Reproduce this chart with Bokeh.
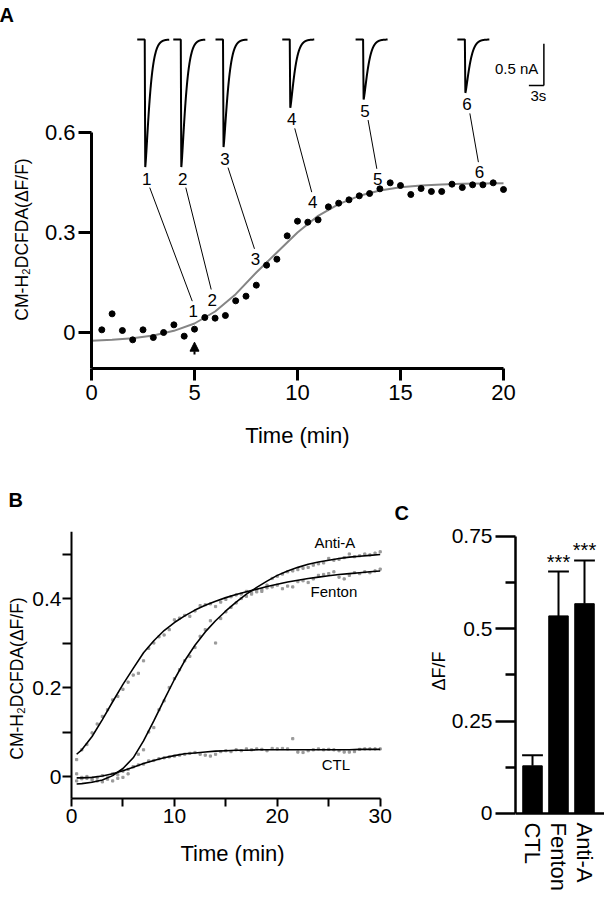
import numpy as np
from bokeh.plotting import figure
from bokeh.models import (Range1d, FixedTicker, Title, Arrow, NormalHead,
                          CustomJSTickFormatter)
from bokeh.layouts import column, row
from bokeh.embed import file_html
from bokeh.resources import INLINE
from bokeh.core.properties import value

FONT = "Liberation Sans"

# ---------------- Panel A data ----------------
a_time = np.arange(0.5, 20.01, 0.5)
a_dff = [0.008, 0.056, 0.006, -0.022, 0.008, -0.015, 0.000, 0.023, -0.011, 0.010,
         0.045, 0.043, 0.051, 0.095, 0.109, 0.142, 0.202, 0.220, 0.290, 0.334,
         0.331, 0.338, 0.377, 0.388, 0.398, 0.410, 0.417, 0.431, 0.449, 0.441,
         0.414, 0.432, 0.423, 0.423, 0.445, 0.435, 0.443, 0.443, 0.449, 0.429]
a_fit_time = list(range(0, 21))
a_fit = [-0.025, -0.022, -0.017, -0.009, 0.005, 0.027, 0.063, 0.115, 0.180, 0.240,
         0.300, 0.350, 0.385, 0.410, 0.426, 0.436, 0.441, 0.444, 0.446, 0.447, 0.448]
trace_ids = ["1", "2", "3", "4", "5", "6"]
trace_amp_nA = [1.53, 1.53, 1.29, 0.82, 0.72, 0.64]
record_time = [4.94, 5.86, 7.96, 10.74, 13.90, 18.83]
stim_time = 5.0
a_xticks = [0, 5, 10, 15, 20]
a_yticks = [0, 0.3, 0.6]

# ---------------- Panel B data ----------------
b_time = np.arange(0.5, 30.01, 0.5)
b_fenton = [0.038, 0.060, 0.072, 0.098, 0.118, 0.135, 0.150, 0.172, 0.180, 0.196,
            0.212, 0.228, 0.232, 0.260, 0.288, 0.300, 0.314, 0.318, 0.330, 0.352,
            0.356, 0.362, 0.360, 0.372, 0.384, 0.386, 0.388, 0.382, 0.392, 0.398,
            0.404, 0.408, 0.410, 0.416, 0.414, 0.420, 0.416, 0.424, 0.426, 0.430,
            0.422, 0.428, 0.426, 0.438, 0.440, 0.436, 0.444, 0.452, 0.454, 0.456,
            0.460, 0.448, 0.444, 0.452, 0.458, 0.456, 0.460, 0.458, 0.462, 0.466]
b_antia = [-0.010, -0.005, -0.004, -0.008, -0.010, -0.012, -0.006, -0.010, -0.004, -0.002,
           0.006, 0.022, 0.050, 0.060, 0.100, 0.110, 0.150, 0.170, 0.200, 0.220,
           0.240, 0.260, 0.270, 0.290, 0.315, 0.330, 0.350, 0.300, 0.355, 0.370,
           0.380, 0.390, 0.400, 0.405, 0.410, 0.415, 0.420, 0.430, 0.445, 0.450,
           0.455, 0.460, 0.462, 0.465, 0.468, 0.470, 0.475, 0.478, 0.480, 0.490,
           0.486, 0.488, 0.492, 0.500, 0.494, 0.496, 0.500, 0.498, 0.502, 0.505]
b_ctl = [0.006, -0.002, 0.000, -0.004, -0.002, 0.002, -0.003, 0.006, 0.004, 0.012,
         0.016, 0.022, 0.026, 0.028, 0.035, 0.036, 0.040, 0.042, 0.044, 0.046,
         0.048, 0.050, 0.052, 0.054, 0.050, 0.048, 0.046, 0.050, 0.056, 0.058,
         0.056, 0.060, 0.058, 0.062, 0.060, 0.062, 0.061, 0.058, 0.063, 0.062,
         0.063, 0.062, 0.085, 0.055, 0.054, 0.058, 0.060, 0.062, 0.060, 0.061,
         0.060, 0.058, 0.055, 0.055, 0.056, 0.061, 0.062, 0.062, 0.062, 0.062]
b_fit_time = [0.5] + list(range(1, 31))
b_fit_fenton = [0.050, 0.060, 0.090, 0.128, 0.168, 0.207, 0.243, 0.278, 0.305, 0.328,
                0.346, 0.361, 0.374, 0.385, 0.394, 0.402, 0.409, 0.415, 0.421, 0.427,
                0.432, 0.437, 0.441, 0.445, 0.448, 0.451, 0.454, 0.456, 0.458, 0.460, 0.462]
b_fit_antia = [-0.017, -0.016, -0.013, -0.008, 0.002, 0.018, 0.042, 0.080, 0.125, 0.172,
               0.218, 0.260, 0.295, 0.325, 0.350, 0.372, 0.392, 0.410, 0.425, 0.439,
               0.452, 0.462, 0.470, 0.477, 0.482, 0.486, 0.490, 0.493, 0.495, 0.497, 0.499]
b_fit_ctl = [-0.003, -0.003, -0.002, 0.001, 0.006, 0.013, 0.021, 0.029, 0.036, 0.042,
             0.047, 0.051, 0.053, 0.055, 0.057, 0.058, 0.059, 0.059, 0.060, 0.060,
             0.060, 0.060, 0.060, 0.060, 0.060, 0.060, 0.060, 0.060, 0.061, 0.061, 0.061]
b_names = ["Anti-A", "Fenton", "CTL"]
b_xticks = [0, 10, 20, 30]
b_xminor = [5, 15, 25]
b_yticks = [0, 0.2, 0.4]
b_yminor = [0.1, 0.3, 0.5]

# ---------------- Panel C data ----------------
c_groups = ["CTL", "Fenton", "Anti-A"]
c_mean = [0.129, 0.535, 0.568]
c_err = [0.029, 0.120, 0.117]
c_sig = ["", "***", "***"]
c_yticks = [0, 0.25, 0.5, 0.75]
c_yminor = [0.125, 0.375, 0.625]

fmt = "return tick.toString();"
YLAB = "CM-H\u2082DCFDA(\u0394F/F)"


def style(p, lw):
    p.grid.visible = False
    p.outline_line_color = None
    for ax in (p.xaxis[0], p.yaxis[0]):
        ax.axis_line_width = lw
        ax.axis_line_color = "black"
        ax.major_tick_line_width = lw
        ax.minor_tick_line_width = lw
        ax.major_tick_line_color = "black"
        ax.major_tick_in = 0
        ax.minor_tick_in = 0
        ax.major_label_text_font = FONT
        ax.major_label_text_color = "black"
        ax.formatter = CustomJSTickFormatter(code=fmt)


def letter(p, text, offset, standoff, valign):
    p.title.text = text
    p.title.align = "left"
    p.title.offset = offset
    p.title.standoff = standoff
    p.title.vertical_align = valign
    p.title.text_font = FONT
    p.title.text_font_size = "20px"
    p.title.text_font_style = "bold"
    p.title.text_color = "black"


def txt(p, x, y, text, size, align="center", baseline="middle", angle=0.0):
    p.text(x=x, y=y, text=text, angle=angle, text_font=value(FONT), text_font_size=f"{size}px",
           text_align=align, text_baseline=baseline, text_color="black")


# =============== Panel A ===============
PX_X = 20.6      # px per minute
PX_Y = 333.33    # px per dF/F unit
H_A = 464
pA = figure(width=604, height=H_A, x_range=Range1d(-3.835, 23.835), y_range=Range1d(-0.108, 0.906),
            output_backend="svg", toolbar_location=None,
            min_border_left=12, min_border_right=22, min_border_top=30, min_border_bottom=96)
style(pA, 3)
pA.xaxis.bounds = (0, 20)
pA.yaxis.bounds = (-0.108, 0.6)
pA.yaxis.fixed_location = 0
pA.xaxis.ticker = FixedTicker(ticks=a_xticks)
pA.yaxis.ticker = FixedTicker(ticks=a_yticks)
pA.xaxis.major_tick_out = 12
pA.yaxis.major_tick_out = 13
pA.xaxis.minor_tick_line_color = None
pA.yaxis.minor_tick_line_color = None
pA.xaxis.major_label_text_font_size = "22px"
pA.yaxis.major_label_text_font_size = "22px"
pA.xaxis.major_label_standoff = 4
pA.yaxis.major_label_standoff = 3
pA.xaxis.axis_label = "Time (min)"
pA.xaxis.axis_label_text_font = FONT
pA.xaxis.axis_label_text_font_size = "22px"
pA.xaxis.axis_label_text_font_style = "normal"
pA.xaxis.axis_label_text_color = "black"
pA.xaxis.axis_label_standoff = 20

# current traces (layout: where each trace is drawn)
trace_t0 = [2.22, 3.97, 6.02, 9.26, 12.82, 17.76]
TRACE_BASE = 0.879
MIN_PER_S = 5.0 / PX_X
Y_PER_NA = 83.4 / PX_Y
s = np.linspace(0, 6.4, 500)
ON = 1.5
tx, ty = [], []
for t0, amp in zip(trace_t0, trace_amp_nA):
    d = s - ON
    w = np.zeros_like(s)
    fall = (d >= 0) & (d < 0.1)
    w[fall] = -amp * d[fall] / 0.1
    rec = d >= 0.1
    w[rec] = -amp * np.exp(-((d[rec] - 0.1) / 1.1) ** 1.3)
    tx.append(t0 + s * MIN_PER_S)
    ty.append(TRACE_BASE + w * Y_PER_NA)
pA.multi_line(tx, ty, line_color="black", line_width=2)

# scale bar
SB_X, SB_Y = 21.96, 0.741
pA.segment(x0=[SB_X, SB_X - 3 * MIN_PER_S], y0=[SB_Y, SB_Y],
           x1=[SB_X, SB_X], y1=[SB_Y + 0.5 * Y_PER_NA, SB_Y], line_color="black", line_width=1.5)
txt(pA, [SB_X - 5.5 / PX_X], [SB_Y + 0.25 * Y_PER_NA - 4 / PX_Y], ["0.5 nA"], 15, align="right")
txt(pA, [SB_X - 1.5 * MIN_PER_S + 2 / PX_X], [SB_Y - 10 / PX_Y], ["3s"], 15)

# trace labels and data labels, connectors
tl_x = [t0 + (ON + 0.1) * MIN_PER_S + 1.5 / PX_X for t0 in trace_t0]
tl_y = [TRACE_BASE - a * Y_PER_NA - 11.5 / PX_Y for a in trace_amp_nA]
dl_y = [0.064, 0.099, 0.221, 0.391, 0.461, 0.481]
pA.segment(x0=[x + 3 / PX_X for x in tl_x], y0=[y - 9 / PX_Y for y in tl_y],
           x1=[x - 1 / PX_X for x in record_time], y1=[y + 10 / PX_Y for y in dl_y],
           line_color="black", line_width=1)
txt(pA, tl_x, tl_y, trace_ids, 17)
txt(pA, record_time, dl_y, trace_ids, 17)

pA.line(a_fit_time, a_fit, line_color="#858585", line_width=2)
pA.scatter(a_time, a_dff, size=6, color="black")
pA.add_layout(Arrow(end=NormalHead(size=9, fill_color="black", line_color="black"),
                    x_start=stim_time, y_start=-0.066, x_end=stim_time, y_end=-0.029,
                    line_width=2, line_color="black"))
# y axis title
txt(pA, [(21 - 91) / PX_X], [(332 - 239) / PX_Y], [YLAB], 17.5, angle=np.pi / 2)

letter(pA, "A", -13, 5, "top")

# =============== Panel B ===============
# B and C share top/bottom borders (row alignment): frames run to the bottom,
# axes are placed at fixed data locations.
ROW_H = 899 - H_A
PB_X, PB_Y = 10.29, 445.0
pB = figure(width=392, height=ROW_H, x_range=Range1d(-71 / PB_X, 321 / PB_X),
            y_range=Range1d(-0.2719, 0.5506),
            output_backend="svg", toolbar_location=None,
            min_border_left=0, min_border_right=0, min_border_top=67, min_border_bottom=2)
style(pB, 2)
pB.xaxis.bounds = (0, 30)
pB.yaxis.bounds = (-0.0488, 0.5506)
pB.xaxis.fixed_location = -0.0488
pB.yaxis.fixed_location = 0
pB.xaxis.ticker = FixedTicker(ticks=b_xticks, minor_ticks=b_xminor)
pB.yaxis.ticker = FixedTicker(ticks=b_yticks, minor_ticks=b_yminor)
pB.xaxis.major_tick_out = 8
pB.xaxis.minor_tick_out = 8
pB.yaxis.major_tick_out = 9
pB.yaxis.minor_tick_out = 9
pB.xaxis.major_label_text_font_size = "21px"
pB.yaxis.major_label_text_font_size = "21px"
pB.xaxis.major_label_standoff = 3
pB.yaxis.major_label_standoff = 1

for ys in (b_fenton, b_antia, b_ctl):
    pB.scatter(b_time, ys, marker="square", size=2.2, color="#9a9a9a")
for ys in (b_fit_fenton, b_fit_antia, b_fit_ctl):
    pB.line(b_fit_time, ys, line_color="black", line_width=1.6)
txt(pB, [25.6, 25.5, 25.7], [0.527, 0.416, 0.026], b_names, 15)
txt(pB, [15.65], [-0.173], ["Time (min)"], 22)
txt(pB, [(16 - 71) / PB_X], [(776 - 678) / PB_Y], [YLAB], 17.5, angle=np.pi / 2)

letter(pB, "B", 8, 42, "bottom")

# =============== Panel C ===============
pC = figure(width=212, height=ROW_H, x_range=Range1d(0.346, 3.769), y_range=Range1d(-0.2275, 0.7635),
            output_backend="svg", toolbar_location=None,
            min_border_left=123, min_border_right=0, min_border_top=67, min_border_bottom=2)
style(pC, 2.5)
pC.yaxis.bounds = (0, 0.75)
pC.xaxis.fixed_location = 0
c_x = [1, 2, 3]
pC.xaxis.ticker = FixedTicker(ticks=c_x)
pC.xaxis.major_label_overrides = {1: c_groups[0], 2: c_groups[1], 3: c_groups[2]}
pC.xaxis.major_label_orientation = "vertical"
pC.xaxis.major_tick_line_color = None
pC.xaxis.minor_tick_line_color = None
pC.xaxis.major_tick_out = 0
pC.xaxis.major_label_standoff = 9
pC.xaxis.major_label_text_font_size = "22px"
pC.yaxis.ticker = FixedTicker(ticks=c_yticks, minor_ticks=c_yminor)
pC.yaxis.major_tick_out = 20
pC.yaxis.minor_tick_out = 10
pC.yaxis.major_label_standoff = 3
pC.yaxis.major_label_text_font_size = "21px"

pC.vbar(x=c_x, top=c_mean, width=0.75, color="black")
upper = [m + e for m, e in zip(c_mean, c_err)]
pC.segment(x0=c_x, y0=c_mean, x1=c_x, y1=upper, line_color="black", line_width=2)
pC.segment(x0=[x - 0.4 for x in c_x], y0=upper, x1=[x + 0.4 for x in c_x], y1=upper,
           line_color="black", line_width=2)
pC.text(x=c_x, y=upper, text=c_sig, text_font=value(FONT), text_font_size="20px",
        text_align="center", text_baseline="bottom", y_offset=1, text_color="black")

letter(pC, "C", -121, 16, "bottom")
pC.add_layout(Title(text="\u0394F/F", align="left", offset=207, standoff=0, vertical_align="bottom",
                    text_font=FONT, text_font_size="18px", text_font_style="normal",
                    text_color="black"), "left")

layout = column(pA, row(pB, pC))
open("out.html", "w").write(file_html(layout, INLINE))
